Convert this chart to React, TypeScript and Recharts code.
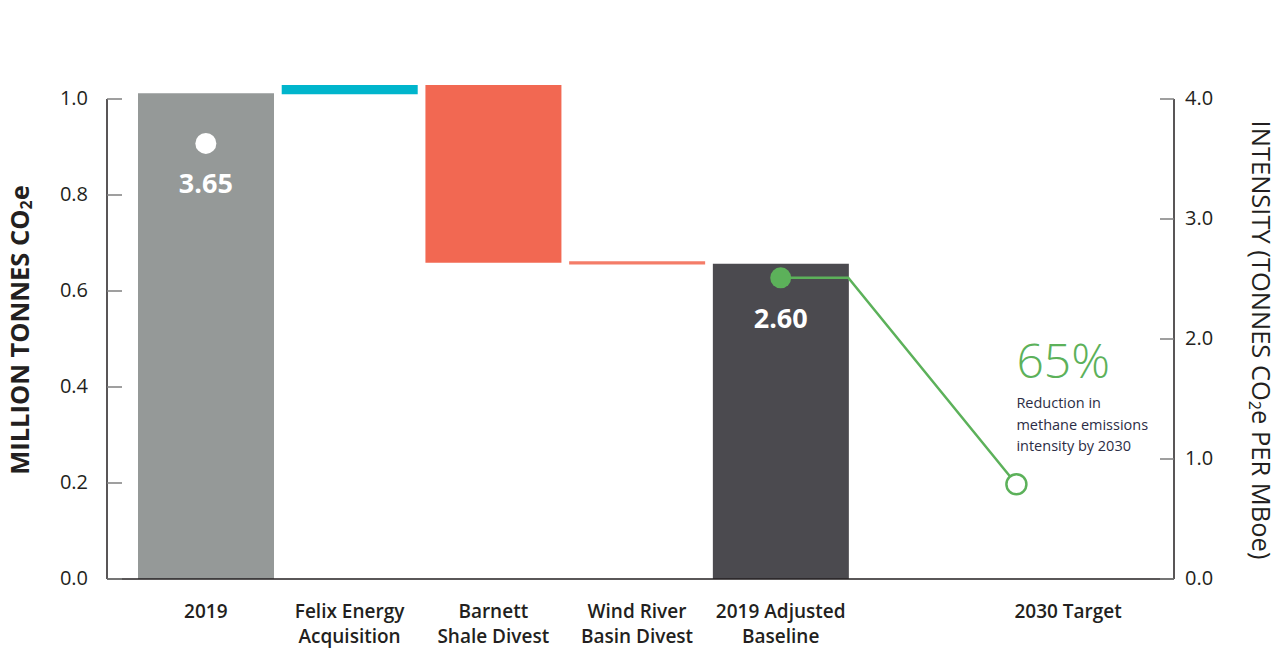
import React from "react";
import { ComposedChart, Bar, Cell, Line, XAxis, YAxis } from "recharts";

const FONT = "'Open Sans', sans-serif";
const INK = "#231f20";
const GREEN = "#5cb15a";

// waterfall categories (\n splits the tick label into two lines)
const categories = [
  "2019",
  "Felix Energy\nAcquisition",
  "Barnett\nShale Divest",
  "Wind River\nBasin Divest",
  "2019 Adjusted\nBaseline",
  "",
  "2030 Target",
];
const barBase = [0, 1.01, 0.659, 0.655, 0, 0, 0];
const barChange = [1.012, 0.019, 0.37, 0.007, 0.657, 0, 0];
const barColors = ["#959998", "#00b5cc", "#f26852", "#f47c68", "#4b4a4f", "none", "none"];

const leftTicks = [0, 0.2, 0.4, 0.6, 0.8, 1.0];
const rightTicks = [0, 1, 2, 3, 4];

// intensity markers (right axis), position in category units
const markerPos = [0, 4];
const markerValue = [3.63, 2.51];
const markerLabel = ["3.65", "2.60"];
const markerColor = ["#ffffff", GREEN];

const trendPos = [4, 4.47, 5.64];
const trendValue = [2.51, 2.51, 0.79];

const barData = categories.map((name, i) => ({ name, base: barBase[i], change: barChange[i] }));
const markerData = markerPos.map((pos, i) => ({ pos, v: markerValue[i], label: markerLabel[i], color: markerColor[i] }));
const trendData = trendPos.map((pos, i) => ({ pos, v: trendValue[i] }));

function LeftTick({ x, y, payload }: any) {
  return (
    <g>
      <line x1={x} x2={x + 15} y1={y} y2={y} stroke="#7f7f7f" strokeWidth={1.5} />
      <text x={x - 19} y={y} dy={6} textAnchor="end" fill={INK} fontSize={20} fontFamily={FONT}>
        {Number(payload.value).toFixed(1)}
      </text>
    </g>
  );
}

function RightTick({ x, y, payload }: any) {
  return (
    <g>
      <line x1={x} x2={x - 14} y1={y} y2={y} stroke="#7f7f7f" strokeWidth={1.5} />
      <text x={x + 11} y={y} dy={6} textAnchor="start" fill={INK} fontSize={20} fontFamily={FONT}>
        {Number(payload.value).toFixed(1)}
      </text>
    </g>
  );
}

function CategoryTick({ x, y, payload }: any) {
  const lines = String(payload.value).split("\n");
  return (
    <text x={x} y={y} textAnchor="middle" fill={INK} fontSize={19} fontWeight={600} fontFamily={FONT}>
      {lines.map((l, i) => (
        <tspan key={i} x={x} dy={i === 0 ? 39 : 25}>
          {l}
        </tspan>
      ))}
    </text>
  );
}

function MarkerDot(props: any) {
  const { cx, cy, payload, index } = props;
  return (
    <g key={`m${index}`}>
      <circle cx={cx} cy={cy} r={10.5} fill={payload.color} />
      <text x={cx} y={cy + 50} textAnchor="middle" fill="#ffffff" fontSize={27} fontWeight={700} fontFamily={FONT}>
        {payload.label}
      </text>
    </g>
  );
}

function TrendDot(props: any) {
  const { cx, cy, index } = props;
  if (index !== trendData.length - 1) return <g key={`t${index}`} />;
  return (
    <g key={`t${index}`}>
      <circle cx={cx} cy={cy} r={10} fill="#ffffff" stroke={GREEN} strokeWidth={2.5} />
      <text x={cx} y={cy - 106} fill={GREEN} fontSize={48} fontWeight={300} fontFamily={FONT}>
        65%
      </text>
      <text fill="#2c2d45" fontSize={14.5} fontFamily={FONT}>
        <tspan x={cx} y={cy - 76}>Reduction in</tspan>
        <tspan x={cx} y={cy - 54}>methane emissions</tspan>
        <tspan x={cx} y={cy - 33}>intensity by 2030</tspan>
      </text>
    </g>
  );
}

export default function App() {
  return (
    <div style={{ position: "absolute", left: 0, top: 0, width: 1280, height: 651, background: "#fff" }}>
      <ComposedChart width={1280} height={651} data={barData} margin={{ top: 69, right: 0, bottom: 0, left: 0 }}>
        <XAxis
          xAxisId="cat"
          dataKey="name"
          type="category"
          height={72}
          padding={{ left: 27, right: 34 }}
          axisLine={{ stroke: INK, strokeWidth: 1.5 }}
          tickLine={false}
          tickSize={0}
          tickMargin={0}
          interval={0}
          tick={<CategoryTick />}
        />
        <XAxis
          xAxisId="pos"
          dataKey="pos"
          type="number"
          hide
          domain={[-0.5, 6.5]}
          padding={{ left: 27, right: 34 }}
        />
        <YAxis
          yAxisId="left"
          orientation="left"
          type="number"
          width={107}
          domain={[0, 1.0625]}
          ticks={leftTicks}
          interval={0}
          tickLine={false}
          tickSize={0}
          tickMargin={0}
          axisLine={{ stroke: INK, strokeWidth: 1.5, strokeDasharray: "0 30 480 100" }}
          tick={<LeftTick />}
          label={{
            content: () => (
              <text
                x={19}
                y={330}
                transform="rotate(-90, 19, 330)"
                textAnchor="middle"
                dominantBaseline="central"
                fill={INK}
                fontSize={25.5}
                fontWeight={700}
                fontFamily={FONT}
              >
                MILLION TONNES CO
                <tspan fontSize={16} dy={7}>2</tspan>
                <tspan dy={-7}>e</tspan>
              </text>
            ),
          }}
        />
        <YAxis
          yAxisId="right"
          orientation="right"
          type="number"
          width={106}
          domain={[0, 4.25]}
          ticks={rightTicks}
          interval={0}
          tickLine={false}
          tickSize={0}
          tickMargin={0}
          axisLine={{ stroke: INK, strokeWidth: 1.5, strokeDasharray: "0 30 480 100" }}
          tick={<RightTick />}
          label={{
            content: () => (
              <text
                x={1262}
                y={340}
                transform="rotate(90, 1262, 340)"
                textAnchor="middle"
                dominantBaseline="central"
                fill={INK}
                fontSize={25.5}
                fontWeight={500}
                fontFamily={FONT}
              >
                INTENSITY (TONNES CO
                <tspan fontSize={16} dy={7}>2</tspan>
                <tspan dy={-7}>e PER MBoe)</tspan>
              </text>
            ),
          }}
        />
        <Bar xAxisId="cat" yAxisId="left" dataKey="base" stackId="w" fill="transparent" barSize={136} isAnimationActive={false} />
        <Bar xAxisId="cat" yAxisId="left" dataKey="change" stackId="w" barSize={136} isAnimationActive={false}>
          {barData.map((d, i) => (
            <Cell key={d.name + i} fill={barColors[i]} />
          ))}
        </Bar>
        <Line
          xAxisId="pos"
          yAxisId="right"
          data={trendData}
          dataKey="v"
          stroke={GREEN}
          strokeWidth={2.5}
          dot={TrendDot}
          activeDot={false}
          isAnimationActive={false}
        />
        <Line
          xAxisId="pos"
          yAxisId="right"
          data={markerData}
          dataKey="v"
          stroke="none"
          dot={MarkerDot}
          activeDot={false}
          isAnimationActive={false}
        />
      </ComposedChart>
    </div>
  );
}
